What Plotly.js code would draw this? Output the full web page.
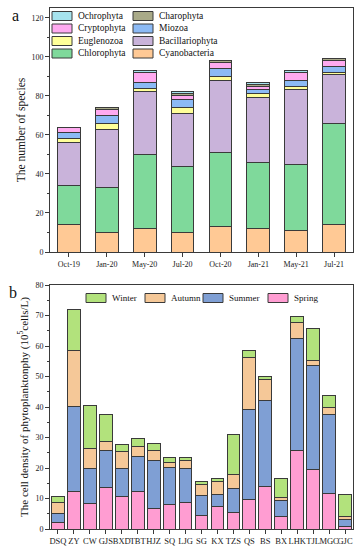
<!DOCTYPE html>
<html>
<head>
<meta charset="utf-8">
<script src="https://cdn.plot.ly/plotly-3.0.1.min.js"></script>
<style>html,body{margin:0;padding:0;background:#fff;}#chart{width:361px;height:550px;}</style>
</head>
<body>
<div id="chart"></div>
<script>
// ---- Panel a: number of species by sampling time ----
const periods = ["Oct-19","Jan-20","May-20","Jul-20","Oct-20","Jan-21","May-21","Jul-21"];
const cyanobacteria   = [14, 10, 12, 10, 13, 12, 11, 14];
const chlorophyta     = [20, 23, 38, 34, 38, 34, 34, 52];
const bacillariophyta = [22, 30, 32, 27, 37, 33, 38, 25];
const euglenozoa      = [2, 3, 2, 3, 2, 2, 2, 1];
const miozoa          = [3, 4, 3, 4, 4, 2, 3, 3];
const cryptophyta     = [3, 3, 5, 2, 3, 2, 4, 3];
const charophyta      = [0, 1, 0, 1, 1, 1, 0, 1];
const ochrophyta      = [0, 0, 1, 1, 0, 1, 1, 0];

// ---- Panel b: cell density by site and season ----
const sites  = ["DSQ","ZY","CW","GJS","BXD","TBT","HJZ","SQ","LJG","SG","KX","TZS","QS","BS","BX","LHK","TJL","MGC","GJC"];
const spring = [2.0, 12.2, 8.2, 13.5, 10.8, 12.2, 6.7, 7.9, 8.6, 4.4, 7.3, 5.3, 9.6, 14.1, 4.2, 25.7, 19.6, 11.5, 0.9];
const summer = [3.0, 28.0, 11.8, 12.1, 9.2, 11.5, 15.8, 12.4, 11.4, 6.6, 4.0, 7.9, 29.5, 28.1, 5.1, 36.6, 34.0, 26.2, 2.2];
const autumn = [3.8, 18.3, 6.5, 3.0, 5.3, 3.3, 3.1, 1.5, 2.5, 3.5, 4.2, 4.6, 17.0, 6.8, 1.1, 5.4, 1.7, 2.3, 1.1];
const winter = [1.9, 13.5, 14.0, 9.0, 2.4, 2.6, 2.3, 1.6, 1.0, 1.0, 0.9, 13.1, 2.3, 1.1, 6.1, 2.1, 10.6, 3.8, 7.0];

const SERIF = "Liberation Serif, Times New Roman, serif";
const EDGE = "#3a3a3a";

const seriesA = [
  {name: "Cyanobacteria",   y: cyanobacteria,   color: "#ffc995"},
  {name: "Chlorophyta",     y: chlorophyta,     color: "#7fd99b"},
  {name: "Bacillariophyta", y: bacillariophyta, color: "#c9b3da"},
  {name: "Euglenozoa",      y: euglenozoa,      color: "#ffff99"},
  {name: "Miozoa",          y: miozoa,          color: "#8cbaf5"},
  {name: "Cryptophyta",     y: cryptophyta,     color: "#ffaaf0"},
  {name: "Charophyta",      y: charophyta,      color: "#a9aa88"},
  {name: "Ochrophyta",      y: ochrophyta,      color: "#a6e3ee"}
];
const seriesB = [
  {name: "Spring", y: spring, color: "#ff9dd2"},
  {name: "Summer", y: summer, color: "#7f9fd4"},
  {name: "Autumn", y: autumn, color: "#f5c898"},
  {name: "Winter", y: winter, color: "#b2e27c"}
];

const traces = [];
seriesA.forEach(s => traces.push({
  type: "bar", name: s.name, x: periods, y: s.y, width: 0.6,
  marker: {color: s.color, line: {color: EDGE, width: 1}},
  xaxis: "x", yaxis: "y", showlegend: false, hoverinfo: "name+y"
}));
seriesB.forEach(s => traces.push({
  type: "bar", name: s.name, x: sites, y: s.y, width: 0.8,
  marker: {color: s.color, line: {color: EDGE, width: 1}},
  xaxis: "x2", yaxis: "y2", showlegend: false, hoverinfo: "name+y"
}));

// pixel helpers for the hand-placed legends (layout, not data)
const W = 361, H = 550, ML = 50, MR = 8, MT = 8, MB = 21;
const PW = W - ML - MR, PH = H - MT - MB;
const px2x = p => (p - ML) / PW;
const px2y = p => (H - MB - p) / PH;

const shapes = [], annotations = [];
function legendItem(name, color, x0, yc, fs) {
  shapes.push({type: "rect", xref: "paper", yref: "paper",
    x0: px2x(x0), x1: px2x(x0 + 20), y0: px2y(yc + 4.5), y1: px2y(yc - 4.5),
    fillcolor: color, line: {color: EDGE, width: 1}});
  annotations.push({text: name, xref: "paper", yref: "paper",
    x: px2x(x0 + 24), y: px2y(yc), xanchor: "left", yanchor: "middle",
    showarrow: false, font: {family: SERIF, size: fs, color: "#111"}});
}
// panel a legend: two columns, four rows (top row first)
const legendRowsA = [["Ochrophyta", "Charophyta"], ["Cryptophyta", "Miozoa"],
                     ["Euglenozoa", "Bacillariophyta"], ["Chlorophyta", "Cyanobacteria"]];
const colX = [52, 133], rowY = [16, 28.5, 41, 53.5];
legendRowsA.forEach((row, r) => row.forEach((nm, c) => {
  const s = seriesA.find(t => t.name === nm);
  legendItem(s.name, s.color, colX[c], rowY[r], 9.5);
}));
// panel b legend: one row
const legendOrderB = ["Winter", "Autumn", "Summer", "Spring"];
const colXB = [86, 145, 203, 268];
legendOrderB.forEach((nm, i) => {
  const s = seriesB.find(t => t.name === nm);
  legendItem(s.name, s.color, colXB[i], 298, 9);
});

annotations.push(
  {text: "a", xref: "paper", yref: "paper", x: px2x(15), y: px2y(15), xanchor: "center", yanchor: "middle",
    showarrow: false, font: {family: SERIF, size: 16, color: "#111"}},
  {text: "b", xref: "paper", yref: "paper", x: px2x(13), y: px2y(292), xanchor: "center", yanchor: "middle",
    showarrow: false, font: {family: SERIF, size: 16, color: "#111"}}
);

const tickFont = {family: SERIF, size: 8, color: "#222"};
const axisCommon = {
  showline: true, linecolor: EDGE, linewidth: 1, mirror: true,
  ticks: "outside", ticklen: 4, tickcolor: EDGE, tickfont: tickFont,
  showgrid: false, zeroline: false, fixedrange: true
};

const layout = {
  width: W, height: H,
  margin: {l: ML, r: MR, t: MT, b: MB},
  paper_bgcolor: "#fff", plot_bgcolor: "#fff",
  barmode: "stack",
  showlegend: false,
  font: {family: SERIF, color: "#222"},
  xaxis: Object.assign({}, axisCommon, {
    type: "category", range: [-0.5, 7.5], anchor: "y", domain: [0, 1]
  }),
  yaxis: Object.assign({}, axisCommon, {
    range: [0, 125], dtick: 20, tick0: 0, anchor: "x", domain: [px2y(252), 1],
    minor: {dtick: 10, ticks: "outside", ticklen: 2, tickcolor: EDGE},
    title: {text: "The number of species", font: {family: SERIF, size: 11.5, color: "#111"}, standoff: 3}
  }),
  xaxis2: Object.assign({}, axisCommon, {
    type: "category", range: [-0.5, 18.5], anchor: "y2", domain: [0, 1],
    tickangle: 0, tickfont: {family: SERIF, size: 8.5, color: "#222"}
  }),
  yaxis2: Object.assign({}, axisCommon, {
    range: [0, 80], dtick: 10, tick0: 0, anchor: "x2", domain: [0, px2y(285)],
    minor: {dtick: 5, ticks: "outside", ticklen: 2, tickcolor: EDGE},
    title: {text: "The cell density of phytoplanktonphy (10<sup>5</sup>cells/L)", font: {family: SERIF, size: 11, color: "#111"}, standoff: 4}
  }),
  shapes: shapes,
  annotations: annotations
};

Plotly.newPlot("chart", traces, layout, {displayModeBar: false, staticPlot: true});
</script>
</body>
</html>
